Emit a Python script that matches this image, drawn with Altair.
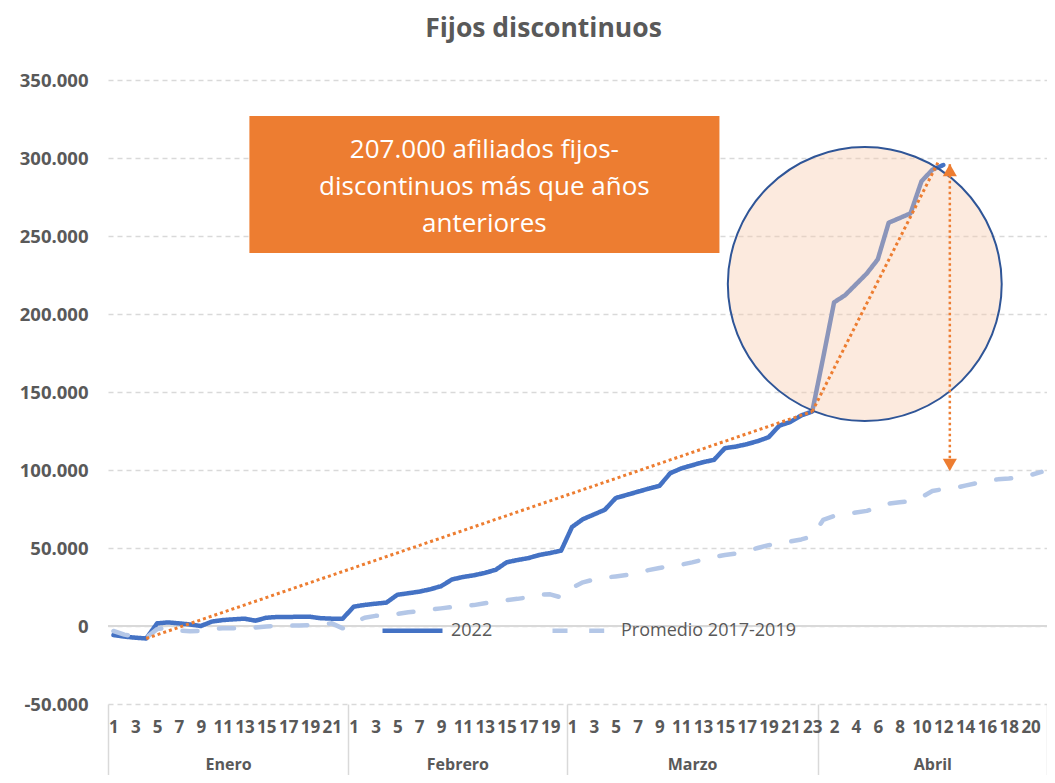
import json
import altair as alt
import pandas as pd

# ---------------- data ----------------
meses = ["Enero", "Febrero", "Marzo", "Abril"]
dias_por_mes = [22, 20, 23, 21]
series = ["2022", "Promedio 2017-2019"]

serie_2022 = [
    # Enero
    -5800, -6800, -7500, -8000, 1700, 2300, 1700, 1000, 0, 2800, 3800,
    4300, 4700, 3400, 5300, 5800, 5800, 5900, 5900, 5000, 4700, 4700,
    # Febrero
    12400, 13500, 14300, 15000, 20000, 21000, 22000, 23500, 25500, 29800,
    31400, 32500, 34000, 36000, 40800, 42300, 43500, 45500, 46800, 48300,
    # Marzo
    63500, 68500, 71500, 74500, 82000, 84000, 86000, 88000, 89800, 98000,
    101000, 103000, 105000, 106500, 114000, 115000, 116500, 118500, 121000,
    128500, 130800, 135000, 137500,
    # Abril (1-12)
    172000, 207500, 212000, 219000, 226000, 235000, 258500, 261500, 264500,
    285000, 292500, 295500,
]

promedio_2017_2019 = [
    # Enero
    -3200, -5500, -7000, -7500, -2000, -1000, -3000, -3300, -3200, -2000, -1500,
    -1500, -1300, -1000, -300, 0, 200, 400, 600, 1000, 1700, -1500,
    # Febrero
    2000, 5300, 6500, 7100, 7800, 8800, 9500, 10500, 11300, 12200,
    12800, 13400, 14600, 15600, 16600, 17400, 18400, 20000, 20300, 18300,
    # Marzo
    24500, 28000, 29800, 31000, 31800, 32700, 34300, 35800, 37200, 38300,
    39300, 40800, 42500, 44300, 45500, 46500, 48200, 50000, 51800, 53000,
    54200, 55500, 57500,
    # Abril
    68000, 70500, 71800, 72800, 73800, 76000, 78500, 79300, 80000, 82500,
    86500, 87800, 88300, 90000, 91500, 93000, 94000, 94500, 95200, 96800, 98800,
]

y_ticks = [-50000, 0, 50000, 100000, 150000, 200000, 250000, 300000, 350000]

texto_caja = ["207.000 afiliados fijos-", "discontinuos más que años", "anteriores"]

# annotation geometry (in data units: x = category index, y = afiliados)
caja = {"x": 12.95, "x2": 56.0, "y": 326900, "y2": 239100}
texto_pos = {"x": 34.47, "y": 305100}
circulo = {"x": 69.31, "y": 219200}
tendencia = [
    {"x": 3.5, "y": -8000, "x2": 64.5, "y2": 137500},
    {"x": 64.5, "y": 137500, "x2": 76.0, "y2": 297000},
]
diferencia = {"x": 77.1, "y": 296000, "y2": 100000}
flechas = [
    {"x": 77.1, "y": 292200, "forma": "triangle-up"},
    {"x": 77.1, "y": 103300, "forma": "triangle-down"},
]

# ---------------- build tables ----------------
dias = [str(d) for n in dias_por_mes for d in range(1, n + 1)]
n_cat = len(dias)
limites = [0]
for n in dias_por_mes:
    limites.append(limites[-1] + n)
centros = [(limites[i] + limites[i + 1]) / 2 for i in range(len(meses))]

rows = []
for i, v in enumerate(serie_2022):
    rows.append({"pos": i + 0.5, "valor": v, "serie": series[0]})
for i, v in enumerate(promedio_2017_2019):
    rows.append({"pos": i + 0.5, "valor": v, "serie": series[1]})
df = pd.DataFrame(rows)

FONT = "Open Sans"
GREY = "#595959"
ORANGE = "#ED7D31"

xscale = alt.Scale(domain=[0, n_cat], nice=False, zero=False)
yscale = alt.Scale(domain=[y_ticks[0], y_ticks[-1]], nice=False, zero=False)

label_expr_dias = json.dumps(dias) + "[floor(datum.value)]"
expr_mes = "'" + meses[-1] + "'"
for b, m in reversed(list(zip(limites[1:-1], meses[:-1]))):
    expr_mes = f"datum.value < {b} ? '{m}' : ({expr_mes})"

axis_dias = alt.Axis(
    orient="bottom", values=[i + 0.5 for i in range(0, n_cat, 2)],
    labelExpr=label_expr_dias, grid=False, domain=False, ticks=False,
    labelFlush=False, labelOverlap=False, labelPadding=15,
    labelFont=FONT, labelFontSize=17, labelFontWeight="bold",
    labelColor=GREY, title=None,
)
axis_limites = alt.Axis(
    orient="bottom", values=limites, labels=False, grid=False, domain=False,
    ticks=True, tickSize=80, tickColor="#D9D9D9", tickWidth=1.5, title=None,
)
axis_meses = alt.Axis(
    orient="bottom", values=centros, labelExpr=expr_mes, grid=False,
    domain=False, ticks=False, labelFlush=False, labelOverlap=False,
    labelPadding=52, labelFont=FONT, labelFontSize=16, labelFontWeight="bold",
    labelColor=GREY, title=None,
)
axis_y = alt.Axis(
    orient="left", values=y_ticks,
    labelExpr="(datum.value < 0 ? '-' : '') + replace(format(abs(datum.value), ','), ',', '.')",
    grid=True, gridDash=[5, 4], gridColor="#D9D9D9", gridWidth=1.3,
    domain=False, ticks=False, labelPadding=20, labelFont=FONT,
    labelFontSize=18.5, labelFontWeight="bold", labelColor=GREY, title=None,
)

legend = alt.Legend(
    orient="none", legendX=272, legendY=518, direction="horizontal",
    title=None, symbolType="stroke", symbolSize=3600, symbolStrokeWidth=4.5,
    labelFont=FONT, labelFontSize=18, labelColor=GREY, columnPadding=50,
    labelOffset=6, padding=0, labelLimit=400,
)

# zero line (carries month boundary axis and the value axis)
zero = alt.Chart(pd.DataFrame([{"x": 0, "x2": n_cat, "y": 0}])).mark_rule(
    color="#D9D9D9", strokeWidth=2
).encode(
    x=alt.X("x:Q", scale=xscale, axis=axis_limites),
    x2="x2:Q",
    y=alt.Y("y:Q", scale=yscale, axis=axis_y),
)

lines = alt.Chart(df).mark_line(strokeWidth=4.5, strokeJoin="round", strokeCap="round").encode(
    x=alt.X("pos:Q", scale=xscale, axis=axis_dias),
    y=alt.Y("valor:Q", scale=yscale, axis=None),
    color=alt.Color("serie:N", scale=alt.Scale(domain=series, range=["#4472C4", "#B4C7E7"]), legend=legend),
    strokeDash=alt.StrokeDash("serie:N", scale=alt.Scale(domain=series, range=[[1, 0], [15, 21.7]]), legend=legend),
)

circ = alt.Chart(pd.DataFrame([circulo])).mark_point(
    shape="circle", size=75000, filled=True, fill="#F8CBAD", fillOpacity=0.4,
    stroke="#2F5597", strokeWidth=2, strokeOpacity=1, opacity=1,
).encode(
    x=alt.X("x:Q", scale=xscale, axis=None),
    y=alt.Y("y:Q", scale=yscale, axis=None),
)

trend = alt.Chart(pd.DataFrame(tendencia)).mark_rule(
    color=ORANGE, strokeWidth=3, strokeDash=[3, 3]
).encode(
    x=alt.X("x:Q", scale=xscale, axis=None), x2="x2:Q",
    y=alt.Y("y:Q", scale=yscale, axis=None), y2="y2:Q",
)

vert = alt.Chart(pd.DataFrame([diferencia])).mark_rule(
    color=ORANGE, strokeWidth=2.5, strokeDash=[2.5, 3]
).encode(
    x=alt.X("x:Q", scale=xscale, axis=None),
    y=alt.Y("y:Q", scale=yscale, axis=None), y2="y2:Q",
)

arrows = alt.Chart(pd.DataFrame(flechas)).mark_point(
    filled=True, size=200, color=ORANGE, opacity=1
).encode(
    x=alt.X("x:Q", scale=xscale, axis=None),
    y=alt.Y("y:Q", scale=yscale, axis=None),
    shape=alt.Shape("forma:N", scale=None),
)

box = alt.Chart(pd.DataFrame([caja])).mark_rect(color=ORANGE, opacity=1).encode(
    x=alt.X("x:Q", scale=xscale, axis=axis_meses), x2="x2:Q",
    y=alt.Y("y:Q", scale=yscale, axis=None), y2="y2:Q",
)

box_text = alt.Chart(pd.DataFrame([{**texto_pos, "t": texto_caja}])).mark_text(
    font=FONT, fontSize=26, color="white", lineHeight=37, align="center", baseline="middle"
).encode(
    x=alt.X("x:Q", scale=xscale, axis=None),
    y=alt.Y("y:Q", scale=yscale, axis=None),
    text="t",
)

chart = alt.layer(zero, lines, circ, trend, vert, arrows, box, box_text).resolve_axis(
    x="independent", y="independent"
).properties(
    width=939, height=624,
    autosize=alt.AutoSizeParams(type="none"),
    padding={"left": 100, "top": 72, "right": 0, "bottom": 71},
    title=alt.TitleParams(
        "Fijos discontinuos", font=FONT, fontSize=26.5, fontWeight="bold",
        color=GREY, anchor="middle", frame="group",
        dx=-34, offset=29,
    ),
    background="white",
).configure_view(stroke=None)

chart.save("out.html", embed_options={"renderer": "svg", "actions": False})
